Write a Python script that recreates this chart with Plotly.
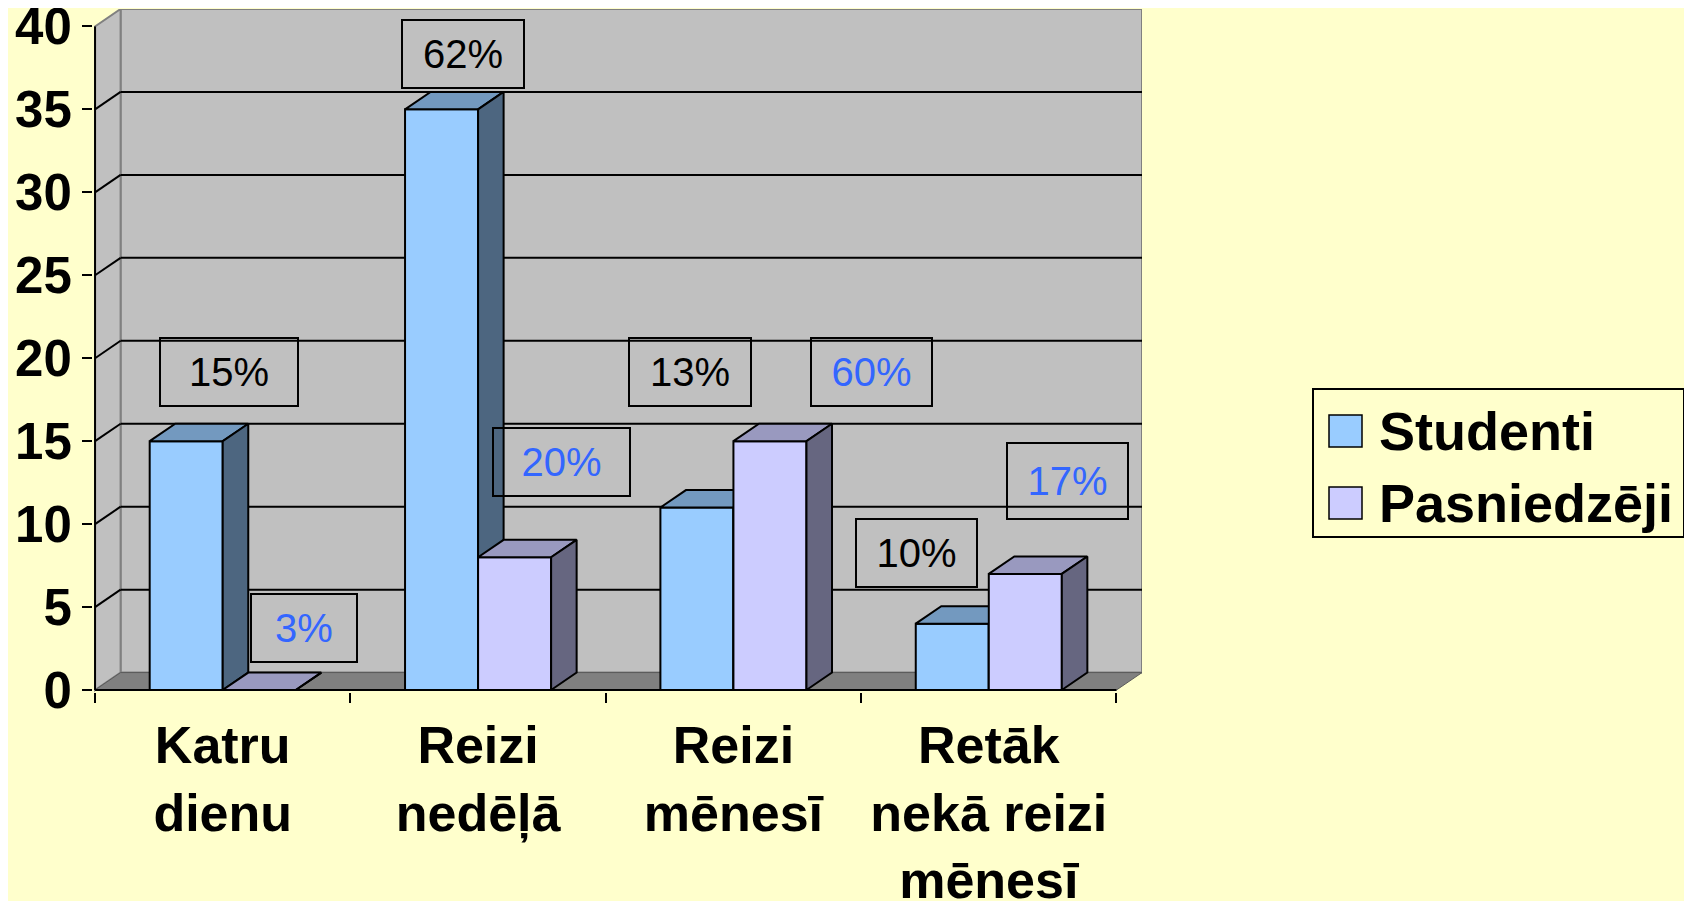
import plotly.graph_objects as go

# ---------------- data ----------------
categories = ["Katru<br>dienu", "Reizi<br>nedēļā", "Reizi<br>mēnesī", "Retāk<br>nekā reizi<br>mēnesī"]
series_names = ["Studenti", "Pasniedzēji"]
studenti = [15, 35, 11, 4]
pasniedzeji = [0, 8, 15, 7]
studenti_labels = ["15%", "62%", "13%", "10%"]
pasniedzeji_labels = ["3%", "20%", "60%", "17%"]
y_ticks = [0, 5, 10, 15, 20, 25, 30, 35, 40]

# ---------------- label box placement (layout, data coords) ----------------
stud_lab_x = [0.525, 1.442, 2.331, 3.216]
stud_lab_y = [19.18, 38.33, 19.18, 8.26]
pasn_lab_x = [0.819, 1.826, 3.040, 3.808]
pasn_lab_y = [3.74, 13.75, 19.18, 12.6]
stud_box_w = [138, 122, 122, 121]
pasn_box_w = [106, 137, 121, 121]
stud_box_h = [68, 68, 68, 68]
pasn_box_h = [68, 68, 68, 76]

# ---------------- styles ----------------
FONT = "Liberation Sans, Arial, sans-serif"
BG = "#FFFFCC"
WALL = "#C0C0C0"
WALL_EDGE = "#808080"
FLOOR = "#808080"
DX, DY = 0.1, 1.05          # depth offset of the 3-D box
BAR_W = 0.286
X_RANGE = [-0.008, 4 + DX]
Y_RANGE = [-0.12, y_ticks[-1] + DY]
STYLE = {
    "Studenti": dict(front="#99CCFF", top="#7399BF", side="#4D6680", offset=-BAR_W / 2, label="black"),
    "Pasniedzēji": dict(front="#CCCCFF", top="#9999BF", side="#666680", offset=BAR_W / 2, label="#3366FF"),
}
OFF = 8                      # page body margin of the browser
W, H = 1692 - OFF, 901 - OFF
PLOT_L, PLOT_R, PLOT_T, PLOT_B = 93 - OFF, 1142 - OFF, 9 - OFF, 692 - OFF


def px_x(p):                 # window pixel -> paper x
    return (p - OFF - PLOT_L) / (PLOT_R - PLOT_L)


def px_y(p):                 # window pixel -> paper y
    return (PLOT_B - (p - OFF)) / (PLOT_B - PLOT_T)


def bar_traces(values, name, xa, ya):
    st = STYLE[name]
    n = len(values)
    xs = [i + 0.5 + st["offset"] for i in range(n)]
    traces = [go.Bar(
        x=xs, y=values, width=BAR_W, name=name, xaxis=xa, yaxis=ya,
        marker=dict(color=st["front"], line=dict(color="black", width=2)),
        showlegend=False,
    )]
    tx, ty, sx, sy = [], [], [], []
    for xc, v in zip(xs, values):
        x0, x1 = xc - BAR_W / 2, xc + BAR_W / 2
        tx += [x0, x1, x1 + DX, x0 + DX, x0, None]
        ty += [v, v, v + DY, v + DY, v, None]
        sx += [x1, x1 + DX, x1 + DX, x1, x1, None]
        sy += [0, DY, v + DY, v, 0, None]
    for px_, py_, col in ((tx, ty, st["top"]), (sx, sy, st["side"])):
        traces.append(go.Scatter(
            x=px_, y=py_, mode="lines", fill="toself", fillcolor=col,
            line=dict(color="black", width=2), xaxis=xa, yaxis=ya,
            showlegend=False, hoverinfo="skip",
        ))
    return traces


fig = go.Figure()
for t in bar_traces(studenti, "Studenti", "x", "y"):
    fig.add_trace(t)
for t in bar_traces(pasniedzeji, "Pasniedzēji", "x2", "y2"):
    fig.add_trace(t)

# ---------------- walls, floor, gridlines ----------------
ymax = y_ticks[-1]
shapes = []
shapes.append(dict(type="rect", xref="x", yref="y", layer="below",
                   x0=DX, x1=4 + DX, y0=DY, y1=ymax + DY,
                   fillcolor=WALL, line=dict(color=WALL_EDGE, width=2)))
shapes.append(dict(type="path", xref="x", yref="y", layer="below",
                   path=f"M0,0 L{DX},{DY} L{DX},{ymax + DY} L0,{ymax} Z",
                   fillcolor=WALL, line=dict(color=WALL_EDGE, width=2)))
shapes.append(dict(type="path", xref="x", yref="y", layer="below",
                   path=f"M0,0 L4,0 L{4 + DX},{DY} L{DX},{DY} Z",
                   fillcolor=FLOOR, line=dict(color="#5a5a5a", width=1)))
for v in y_ticks[1:-1]:
    shapes.append(dict(type="line", xref="x", yref="y", layer="below",
                       x0=DX, x1=4 + DX, y0=v + DY, y1=v + DY,
                       line=dict(color="black", width=2)))
    shapes.append(dict(type="line", xref="x", yref="y", layer="below",
                       x0=0, x1=DX, y0=v, y1=v + DY,
                       line=dict(color="black", width=2)))
# axis lines (front edges)
shapes.append(dict(type="line", xref="x", yref="y", layer="below",
                   x0=0, x1=4, y0=0, y1=0, line=dict(color="black", width=2)))
shapes.append(dict(type="line", xref="x", yref="y", layer="below",
                   x0=0, x1=0, y0=0, y1=ymax, line=dict(color="black", width=2)))

# ---------------- legend (drawn manually for large swatches) ----------------
shapes.append(dict(type="rect", xref="paper", yref="paper", layer="above",
                   x0=px_x(1313), x1=px_x(1684), y0=px_y(537), y1=px_y(389),
                   fillcolor=BG, line=dict(color="black", width=2)))
annotations = []
for k, name in enumerate(series_names):
    top = 415 + 72 * k
    shapes.append(dict(type="rect", xref="paper", yref="paper", layer="above",
                       x0=px_x(1329), x1=px_x(1362), y0=px_y(top + 32), y1=px_y(top),
                       fillcolor=STYLE[name]["front"], line=dict(color="black", width=1.5)))
    annotations.append(dict(xref="paper", yref="paper", x=px_x(1377), y=px_y(top + 16),
                            xanchor="left", yanchor="middle", showarrow=False, text=name,
                            font=dict(family=FONT, size=54, color="black", weight="bold")))

# ---------------- data label boxes ----------------
for labels, lx, ly, bw, bh, name in (
    (studenti_labels, stud_lab_x, stud_lab_y, stud_box_w, stud_box_h, "Studenti"),
    (pasniedzeji_labels, pasn_lab_x, pasn_lab_y, pasn_box_w, pasn_box_h, "Pasniedzēji"),
):
    for txt, x, y, w, h in zip(labels, lx, ly, bw, bh):
        annotations.append(dict(xref="x", yref="y", x=x, y=y, text=txt, showarrow=False,
                                xanchor="center", yanchor="middle",
                                width=w - 2, height=h - 2, borderpad=0,
                                bordercolor="black", borderwidth=2,
                                font=dict(family=FONT, size=40, color=STYLE[name]["label"])))

fig.update_layout(
    width=W, height=H,
    paper_bgcolor=BG, plot_bgcolor=BG,
    margin=dict(l=PLOT_L, r=W - PLOT_R, t=PLOT_T, b=H - PLOT_B, autoexpand=False),
    showlegend=False,
    shapes=shapes, annotations=annotations,
    font=dict(family=FONT, color="black"),
    xaxis=dict(range=X_RANGE, tickvals=[i + 0.5 for i in range(len(categories))],
               ticktext=categories, ticks="", showgrid=False, zeroline=False, showline=False,
               tickfont=dict(family=FONT, size=52, color="black", weight="bold"),
               ticklabelstandoff=18, ticklabeloverflow="allow", fixedrange=True),
    yaxis=dict(range=Y_RANGE, tickvals=y_ticks, ticks="outside", ticklen=10, tickwidth=2,
               tickcolor="black", showgrid=False, zeroline=False, showline=False,
               tickfont=dict(family=FONT, size=51, color="black", weight="bold"),
               ticklabelstandoff=0, ticklabeloverflow="allow", fixedrange=True),
    xaxis2=dict(range=X_RANGE, overlaying="x", anchor="y2", side="bottom",
                tickvals=list(range(len(categories) + 1)), ticks="outside", ticklen=10,
                tickwidth=2, tickcolor="black", showticklabels=False, showgrid=False,
                zeroline=False, showline=False, fixedrange=True),
    yaxis2=dict(range=Y_RANGE, overlaying="y", anchor="x2", showticklabels=False,
                ticks="", showgrid=False, zeroline=False, showline=False, fixedrange=True),
)

fig.write_html("out.html")
